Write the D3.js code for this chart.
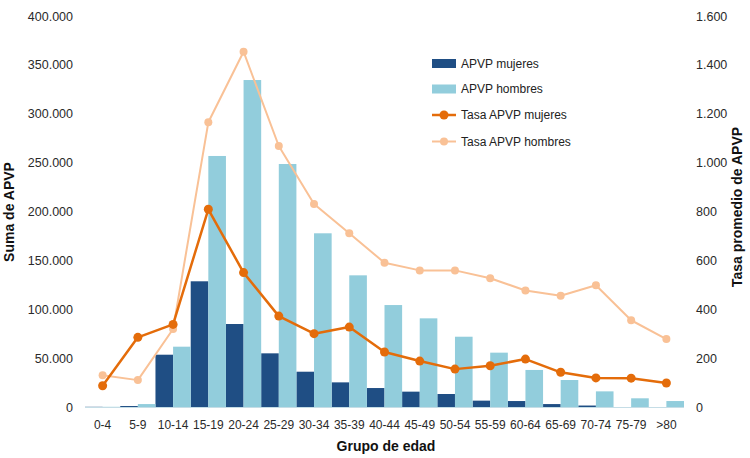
<!DOCTYPE html>
<html><head><meta charset="utf-8">
<script src="https://cdn.jsdelivr.net/npm/d3@7"></script>
<style>body{margin:0;background:#fff}svg{display:block;font-family:"Liberation Sans",Arial,sans-serif}</style>
</head><body><svg id="c" width="750" height="458"></svg>
<script>
const categories = ["0-4","5-9","10-14","15-19","20-24","25-29","30-34","35-39","40-44","45-49","50-54","55-59","60-64","65-69","70-74","75-79",">80"];
const apvpMujeres = [200,1000,53500,128600,84900,54900,36100,25200,19400,15700,13300,6500,6100,3000,1500,0,0];
const apvpHombres = [200,3000,61700,256800,334500,248600,177700,134700,104300,90700,71900,55600,37900,27600,16000,8900,6100];
const tasaMujeres = [87,285,338,809,550,372,300,327,225,188,155,169,196,142,119,118,98];
const tasaHombres = [130,110,319,1165,1454,1068,831,711,590,559,559,527,477,455,498,355,278];
const leftTicks = [0,50000,100000,150000,200000,250000,300000,350000,400000];
const rightTicks = [0,200,400,600,800,1000,1200,1400,1600];
const seriesNames = ["APVP mujeres","APVP hombres","Tasa APVP mujeres","Tasa APVP hombres"];

const C = {dkBlue:"#1F4E84", ltBlue:"#92CDDC", dkOr:"#E46C0A", ltOr:"#F9C196"};
const svg = d3.select("#c");
const fmt = v => d3.format(",")(v).replace(/,/g,".");

const x = d3.scaleBand().domain(categories).range([85,684]).padding(0);
const yL = d3.scaleLinear().domain([0,400000]).range([407,16]);
const yR = d3.scaleLinear().domain([0,1600]).range([407,16]);
const bw = x.bandwidth()/2;

// bars
svg.append("g").selectAll("rect").data(categories).join("rect")
  .attr("x", d=>x(d)).attr("width", bw)
  .attr("y", (d,i)=>yL(apvpMujeres[i])).attr("height",(d,i)=>407-yL(apvpMujeres[i]))
  .attr("fill", C.dkBlue);
svg.append("g").selectAll("rect").data(categories).join("rect")
  .attr("x", d=>x(d)+bw).attr("width", bw)
  .attr("y", (d,i)=>yL(apvpHombres[i])).attr("height",(d,i)=>407-yL(apvpHombres[i]))
  .attr("fill", C.ltBlue);

// baseline
svg.append("line").attr("x1",85).attr("x2",684).attr("y1",407.5).attr("y2",407.5)
  .attr("stroke","#c5dde6").attr("stroke-width",1);

// axes
const axL = d3.axisLeft(yL).tickValues(leftTicks).tickFormat(fmt).tickSize(0).tickPadding(0);
const gL = svg.append("g").attr("transform","translate(73,0)").call(axL);
const axR = d3.axisRight(yR).tickValues(rightTicks).tickFormat(fmt).tickSize(0).tickPadding(0);
const gR = svg.append("g").attr("transform","translate(696,0)").call(axR);
const axB = d3.axisBottom(x).tickSize(0).tickPadding(0);
const gB = svg.append("g").attr("transform","translate(0,420)").call(axB);
[gL,gR,gB].forEach(g=>{g.select(".domain").remove();
  g.selectAll("text").attr("fill","#2a2a2a").style("font-family","'Liberation Sans',Arial,sans-serif");});
gL.selectAll("text").style("font-size","12.5px");
gR.selectAll("text").style("font-size","12.5px");
gB.selectAll("text").style("font-size","12px").attr("dy","0.71em");

// lines
const lineR = d3.line().x((d,i)=>x(categories[i])+x.bandwidth()/2).y(d=>yR(d));
function drawSeries(data, color, w, r){
  svg.append("path").datum(data).attr("d",lineR).attr("fill","none")
    .attr("stroke",color).attr("stroke-width",w).attr("stroke-linejoin","round");
  svg.append("g").selectAll("circle").data(data).join("circle")
    .attr("cx",(d,i)=>x(categories[i])+x.bandwidth()/2).attr("cy",d=>yR(d))
    .attr("r",r).attr("fill",color);
}
drawSeries(tasaHombres, C.ltOr, 2, 4);
drawSeries(tasaMujeres, C.dkOr, 2.5, 4.5);

// axis titles
svg.append("text").attr("transform","translate(14,212) rotate(-90)").attr("text-anchor","middle")
  .style("font-size","14px").style("font-weight","bold").attr("fill","#111").text("Suma de APVP");
svg.append("text").attr("transform","translate(742,207) rotate(-90)").attr("text-anchor","middle")
  .style("font-size","14px").style("font-weight","bold").attr("fill","#111").text("Tasa promedio de APVP");
svg.append("text").attr("x",386).attr("y",451).attr("text-anchor","middle")
  .style("font-size","14px").style("font-weight","bold").attr("fill","#111").text("Grupo de edad");

// legend
const lg = svg.append("g");
const rowsY = [63.5,89,115,141.5];
const lcols = [C.dkBlue,C.ltBlue,C.dkOr,C.ltOr];
seriesNames.forEach((n,i)=>{
  const y = rowsY[i];
  if(i<2){
    lg.append("rect").attr("x",432).attr("y",y-4.5).attr("width",24).attr("height",9).attr("fill",lcols[i]);
  } else {
    lg.append("line").attr("x1",432).attr("x2",456).attr("y1",y).attr("y2",y)
      .attr("stroke",lcols[i]).attr("stroke-width",i==2?2.5:2);
    lg.append("circle").attr("cx",444).attr("cy",y).attr("r",i==2?4.5:4).attr("fill",lcols[i]);
  }
  lg.append("text").attr("x",461).attr("y",y).attr("dy","0.35em")
    .style("font-size","12px").attr("fill","#222").text(n);
});
</script></body></html>
